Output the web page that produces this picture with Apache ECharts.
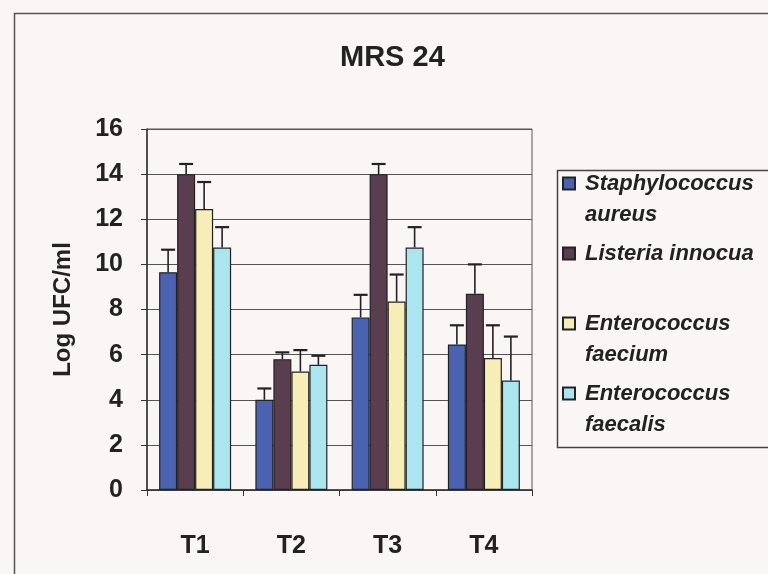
<!DOCTYPE html>
<html>
<head>
<meta charset="utf-8">
<script src="https://cdn.jsdelivr.net/npm/echarts@6/dist/echarts.min.js"></script>
<style>
html,body{margin:0;padding:0;background:#fbf6f6;}
#chart{width:768px;height:574px;}
</style>
</head>
<body>
<div id="chart"></div>
<script>
var categories = ['T1', 'T2', 'T3', 'T4'];
var seriesNames = ['Staphylococcus aureus', 'Listeria innocua', 'Enterococcus faecium', 'Enterococcus faecalis'];
var legendLabels = ['Staphylococcus\naureus', 'Listeria innocua\n ', 'Enterococcus\nfaecium', 'Enterococcus\nfaecalis'];
var staphValues = [9.65, 4.0, 7.65, 6.45];
var listeriaValues = [14.0, 5.8, 14.0, 8.7];
var faeciumValues = [12.45, 5.25, 8.35, 5.85];
var faecalisValues = [10.75, 5.55, 10.75, 4.85];
var staphErr = [1.0, 0.5, 1.0, 0.85];
var listeriaErr = [0.45, 0.3, 0.45, 1.3];
var faeciumErr = [1.2, 0.95, 1.2, 1.45];
var faecalisErr = [0.9, 0.4, 0.9, 1.95];
var yTicks = [0, 2, 4, 6, 8, 10, 12, 14, 16];
var colors = ['#4b62b0', '#5a3d4e', '#f6eeb6', '#abe6f0'];

var allValues = [staphValues, listeriaValues, faeciumValues, faecalisValues];
var allErr = [staphErr, listeriaErr, faeciumErr, faecalisErr];
var BAR_W = 18;
var FONT = "'Liberation Sans', Arial, sans-serif";

var chart = echarts.init(document.getElementById('chart'), null, {renderer: 'canvas'});

var series = [];
allValues.forEach(function (vals, i) {
  series.push({
    name: seriesNames[i],
    type: 'bar',
    data: vals,
    barWidth: BAR_W,
    barGap: '0%',
    itemStyle: {color: colors[i], borderColor: '#222', borderWidth: 1.2},
    z: 2
  });
});
allValues.forEach(function (vals, i) {
  var errData = vals.map(function (v, k) { return [k, v, v + allErr[i][k]]; });
  series.push({
    name: seriesNames[i] + ' err',
    type: 'custom',
    data: errData,
    encode: {x: 0, y: [1, 2]},
    z: 3,
    silent: true,
    renderItem: function (params, api) {
      var base = api.coord([api.value(0), api.value(1)]);
      var top = api.coord([api.value(0), api.value(2)]);
      var x = base[0] + (i - 1.5) * BAR_W;
      var cap = 7;
      return {
        type: 'group',
        children: [
          {type: 'line', shape: {x1: x, y1: base[1], x2: x, y2: top[1]}, style: {stroke: '#222', lineWidth: 1.6}},
          {type: 'line', shape: {x1: x - cap, y1: top[1], x2: x + cap, y2: top[1]}, style: {stroke: '#222', lineWidth: 2.2}}
        ]
      };
    }
  });
});

var option = {
  backgroundColor: '#fbf6f6',
  animation: false,
  title: {
    text: 'MRS 24',
    left: 340,
    top: 43,
    padding: 0,
    textStyle: {fontFamily: FONT, fontWeight: 'bold', fontSize: 29, color: '#222'}
  },
  graphic: [
    {type: 'rect', left: 12, top: 11, shape: {width: 800, height: 620}, style: {fill: 'none', stroke: '#555', lineWidth: 1.5}, z: -1},
    {type: 'rect', left: 555, top: 168, shape: {width: 260, height: 277}, style: {fill: 'none', stroke: '#444', lineWidth: 1.5}, z: -1}
  ],
  legend: {
    data: seriesNames,
    orient: 'vertical',
    left: 562,
    top: 168,
    padding: 0,
    itemGap: 8,
    itemWidth: 17,
    itemHeight: 43,
    icon: 'path://M0 0 H12 V12 H0 Z M17 43',
    formatter: function (name) { return legendLabels[seriesNames.indexOf(name)]; },
    textStyle: {fontFamily: FONT, fontStyle: 'italic', fontWeight: 'bold', fontSize: 22, lineHeight: 31, color: '#222'}
  },
  grid: {left: 147, right: 236, top: 129, bottom: 84, show: true, borderColor: '#555', borderWidth: 1, backgroundColor: 'transparent'},
  xAxis: {
    type: 'category',
    data: categories,
    axisLine: {lineStyle: {color: '#333', width: 1.5}},
    axisTick: {show: true, length: 6, lineStyle: {color: '#333'}},
    axisLabel: {margin: 44, fontFamily: FONT, fontWeight: 'bold', fontSize: 25, color: '#222'}
  },
  yAxis: {
    type: 'value',
    min: yTicks[0],
    max: yTicks[yTicks.length - 1],
    interval: yTicks[1] - yTicks[0],
    name: 'Log UFC/ml',
    nameLocation: 'middle',
    nameRotate: 90,
    nameGap: 72,
    nameTextStyle: {fontFamily: FONT, fontWeight: 'bold', fontSize: 24, color: '#222'},
    axisLine: {show: true, lineStyle: {color: '#333', width: 1.5}},
    axisTick: {show: true, length: 6, lineStyle: {color: '#333'}},
    axisLabel: {margin: 24, fontFamily: FONT, fontWeight: 'bold', fontSize: 25, color: '#222'},
    splitLine: {lineStyle: {color: '#555', width: 1}}
  },
  series: series
};
chart.setOption(option);
</script>
</body>
</html>
